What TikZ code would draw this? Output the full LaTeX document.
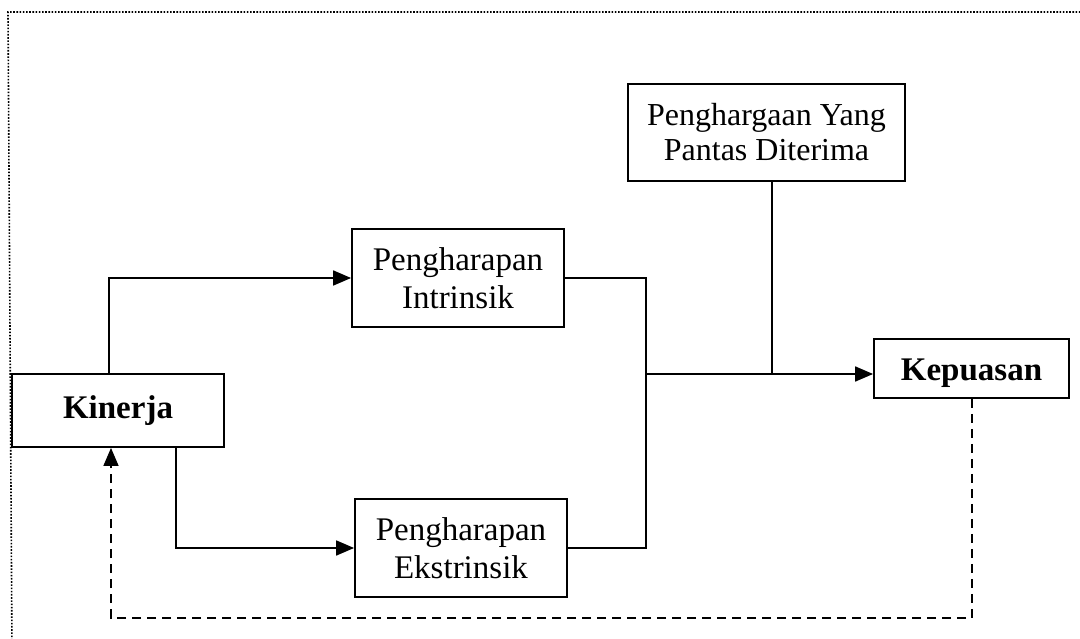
\documentclass[tikz,border=0pt]{standalone}
\usepackage{fontspec}
\setmainfont{Liberation Serif}
\usetikzlibrary{arrows.meta}
\begin{document}
\begin{tikzpicture}[x=1pt,y=-1pt,
  box/.style={draw,line width=1.8pt,inner sep=0pt,align=center,font=\fontsize{33}{38}\selectfont},
  boldbox/.style={box,font=\fontsize{33}{38}\selectfont\bfseries},
  conn/.style={line width=1.8pt},
  arr/.style={conn,-{Triangle[length=18pt,width=15pt]}},
  darr/.style={line width=1.5pt,dash pattern=on 9pt off 6pt,-{Triangle[length=18pt,width=15pt]}},
  frame/.style={line width=1.6pt,dash pattern=on 1.6pt off 1.6pt}]
\clip (0,0) rectangle (1080,639);
\fill[white] (0,0) rectangle (1080,639);
\draw[frame] (1090,12) -- (8,12) -- (12,650);
\node[boldbox,minimum width=212pt,minimum height=73pt] (kin) at (118,410.5) {Kinerja};
\node[box,minimum width=212pt,minimum height=98pt] (int) at (458,278) {Pengharapan\\Intrinsik};
\node[box,minimum width=212pt,minimum height=98pt] (eks) at (461,548) {Pengharapan\\Ekstrinsik};
\node[box,minimum width=277pt,minimum height=97pt,font=\fontsize{32}{35}\selectfont] (phg) at (766.5,132.5) {Penghargaan Yang\\Pantas Diterima};
\node[boldbox,minimum width=195pt,minimum height=59pt,text height=29pt,text depth=5pt] (kep) at (971.5,368.5) {Kepuasan};
\coordinate (ka) at (109,0);
\coordinate (kb) at (176,545);
\coordinate (j) at (646,374);
\coordinate (k) at (772,374);
\coordinate (d1) at (972,618);
\coordinate (d2) at (111,618);
\draw[arr] (ka |- kin.north) |- (int.west);
\draw[arr] (kb |- kin.south) |- (eks.west);
\draw[conn] (int.east) -| (j) |- (eks.east);
\draw[arr] (j) -- (j -| kep.west);
\draw[conn] (k |- phg.south) -- (k);
\draw[darr] (d1 |- kep.south) -- (d1) -- (d2) -- (d2 |- kin.south);
\end{tikzpicture}
\end{document}
